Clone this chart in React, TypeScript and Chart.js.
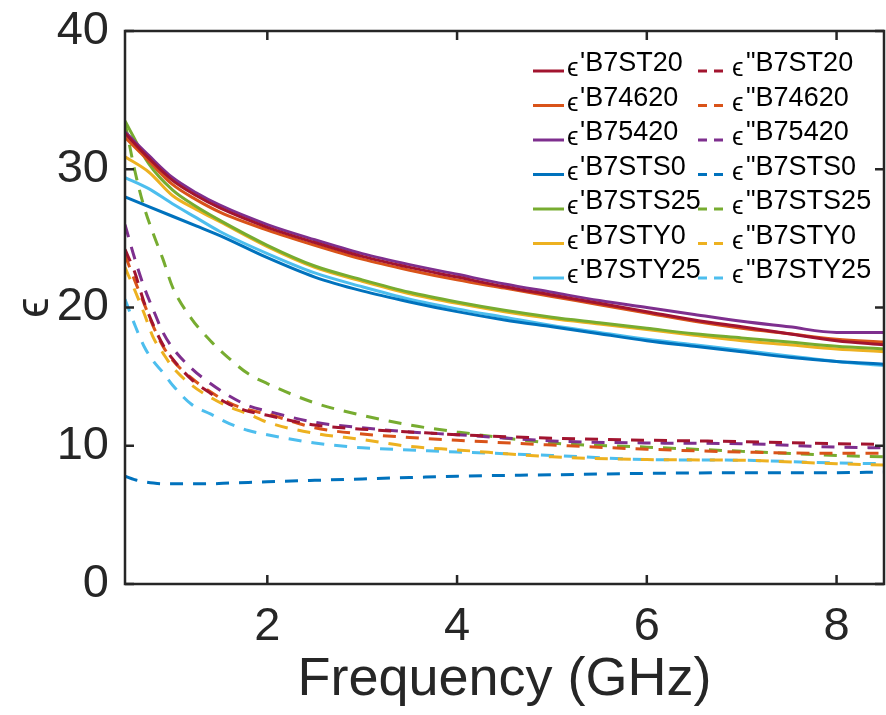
import React, { useEffect, useRef } from "react";
import { Chart, registerables } from "chart.js";

Chart.register(...registerables);

const freqReal = [0.5, 0.75, 1, 1.25, 1.5, 2, 2.5, 3, 3.5, 4, 4.5, 5, 5.5, 6, 6.5, 7, 7.5, 8, 8.5];
const freqImag = [0.5, 0.6, 0.7, 0.8, 0.9, 1.0, 1.2, 1.4, 1.6, 1.8, 2.0, 2.5, 3.0, 3.5, 4, 5, 6, 7, 8, 8.5];

const samples = ["B7ST20", "B74620", "B75420", "B7STS0", "B7STS25", "B7STY0", "B7STY25"];
const colors = ["#A2142F", "#D95319", "#7E2F8E", "#0072BD", "#77AC30", "#EDB120", "#4DBEEE"];

const realB7ST20 = [32.6, 30.8, 29.2, 28.1, 27.2, 25.8, 24.7, 23.7, 22.9, 22.2, 21.5, 20.9, 20.3, 19.7, 19.1, 18.6, 18.1, 17.6, 17.3];
const realB74620 = [32.3, 30.6, 28.9, 27.8, 26.9, 25.6, 24.5, 23.5, 22.7, 22.0, 21.4, 20.8, 20.2, 19.6, 19.0, 18.5, 18.1, 17.7, 17.5];
const realB75420 = [32.7, 31.0, 29.4, 28.3, 27.4, 26.0, 24.9, 23.9, 23.1, 22.4, 21.7, 21.1, 20.5, 20.0, 19.5, 19.0, 18.6, 18.2, 18.2];
const realB7STS0 = [28.0, 27.3, 26.6, 25.9, 25.2, 23.6, 22.2, 21.2, 20.4, 19.7, 19.1, 18.6, 18.1, 17.6, 17.2, 16.8, 16.4, 16.1, 15.9];
const realB7STS25 = [33.5, 30.4, 28.5, 27.3, 26.3, 24.5, 23.0, 22.0, 21.1, 20.4, 19.8, 19.3, 18.9, 18.5, 18.1, 17.8, 17.5, 17.2, 17.0];
const realB7STY0 = [30.9, 29.8, 28.1, 27.1, 26.2, 24.4, 22.9, 21.9, 21.0, 20.3, 19.7, 19.2, 18.8, 18.4, 18.0, 17.6, 17.3, 17.0, 16.8];
const realB7STY25 = [29.4, 28.6, 27.5, 26.5, 25.5, 23.9, 22.5, 21.5, 20.6, 19.9, 19.3, 18.7, 18.2, 17.7, 17.3, 16.9, 16.5, 16.1, 15.8];

const imagB7ST20 = [24.2, 22.6, 20.4, 18.7, 17.3, 16.3, 14.8, 13.8, 13.0, 12.5, 12.2, 11.5, 11.2, 11.0, 10.8, 10.55, 10.4, 10.3, 10.15, 10.1];
const imagB74620 = [23.8, 22.0, 20.3, 18.6, 17.2, 16.2, 14.9, 13.9, 13.1, 12.6, 12.3, 11.3, 10.85, 10.6, 10.4, 10.05, 9.75, 9.55, 9.45, 9.45];
const imagB75420 = [26.0, 23.6, 21.5, 19.8, 18.2, 17.1, 15.6, 14.5, 13.6, 12.9, 12.5, 11.7, 11.3, 11.0, 10.8, 10.35, 10.2, 10.15, 9.9, 9.85];
const imagB7STS0 = [7.8, 7.55, 7.4, 7.3, 7.25, 7.25, 7.25, 7.25, 7.3, 7.35, 7.4, 7.5, 7.6, 7.7, 7.8, 7.9, 8.0, 8.05, 8.05, 8.1];
const imagB7STS25 = [33.4, 30.0, 27.3, 25.3, 23.5, 21.5, 19.2, 17.6, 16.3, 15.2, 14.5, 13.1, 12.2, 11.5, 11.0, 10.2, 9.9, 9.6, 9.3, 9.2];
const imagB7STY0 = [22.9, 21.3, 19.6, 17.8, 16.7, 15.7, 14.4, 13.5, 12.8, 12.3, 11.7, 10.9, 10.45, 9.95, 9.7, 9.2, 9.0, 8.95, 8.7, 8.6];
const imagB7STY25 = [20.6, 18.8, 17.2, 16.1, 15.3, 14.4, 13.0, 12.3, 11.6, 11.1, 10.8, 10.2, 9.85, 9.7, 9.55, 9.3, 9.0, 8.95, 8.75, 8.7];

const realSeries = [realB7ST20, realB74620, realB75420, realB7STS0, realB7STS25, realB7STY0, realB7STY25];
const imagSeries = [imagB7ST20, imagB74620, imagB75420, imagB7STS0, imagB7STS25, imagB7STY0, imagB7STY25];

const xTicks = [2, 4, 6, 8];
const yTicks = [0, 10, 20, 30, 40];

const FONT = "'Liberation Sans', Arial, Helvetica, 'DejaVu Sans', sans-serif";
const AXIS_COLOR = "#262626";

const boxPlugin = {
  id: "matlabBox",
  afterDatasetsDraw(chart: any) {
    const { ctx, chartArea: a, scales } = chart;
    const tl = 9;
    ctx.save();
    ctx.strokeStyle = AXIS_COLOR;
    ctx.lineWidth = 2.5;
    ctx.beginPath();
    ctx.rect(a.left, a.top, a.right - a.left, a.bottom - a.top);
    ctx.stroke();
    ctx.beginPath();
    xTicks.forEach((v) => {
      const px = scales.x.getPixelForValue(v);
      ctx.moveTo(px, a.bottom);
      ctx.lineTo(px, a.bottom - tl);
      ctx.moveTo(px, a.top);
      ctx.lineTo(px, a.top + tl);
    });
    yTicks.forEach((v) => {
      const py = scales.y.getPixelForValue(v);
      ctx.moveTo(a.left, py);
      ctx.lineTo(a.left + tl, py);
      ctx.moveTo(a.right, py);
      ctx.lineTo(a.right - tl, py);
    });
    ctx.stroke();
    ctx.restore();
  },
};

const legendPlugin = {
  id: "twoColLegend",
  afterDraw(chart: any) {
    const { ctx } = chart;
    const ds = chart.data.datasets;
    const rowTop = 60;
    const rowGap = 34.5;
    const cols = [
      { lineX0: 533, lineX1: 564, epsX: 567, textX: 580, prime: "'", dash: [] as number[] },
      { lineX0: 698, lineX1: 725, epsX: 732, textX: 746, prime: '"', dash: [9, 7] },
    ];
    ctx.save();
    samples.forEach((name, i) => {
      const cy = rowTop + i * rowGap;
      cols.forEach((c, ci) => {
        const d = ds[ci * samples.length + i];
        ctx.strokeStyle = d.borderColor;
        ctx.lineWidth = 3;
        ctx.setLineDash(c.dash);
        ctx.beginPath();
        ctx.moveTo(c.lineX0, cy + 11);
        ctx.lineTo(c.lineX1, cy + 11);
        ctx.stroke();
        ctx.setLineDash([]);
        ctx.fillStyle = "#000";
        ctx.textBaseline = "alphabetic";
        ctx.textAlign = "left";
        ctx.font = `26px ${FONT}`;
        ctx.fillText("\u03F5", c.epsX, cy + 16);
        ctx.font = `27px ${FONT}`;
        ctx.fillText(c.prime + name, c.textX, cy + 11);
      });
    });
    ctx.restore();
  },
};

export default function App() {
  const ref = useRef<HTMLCanvasElement | null>(null);

  useEffect(() => {
    if (!ref.current) return;
    const datasets: any[] = [];
    realSeries.forEach((vals, i) => {
      datasets.push({
        label: "\u03F5'" + samples[i],
        data: vals.map((v, k) => ({ x: freqReal[k], y: v })),
        borderColor: colors[i],
        backgroundColor: colors[i],
        borderWidth: 3,
        pointRadius: 0,
        cubicInterpolationMode: "monotone",
        fill: false,
      });
    });
    imagSeries.forEach((vals, i) => {
      datasets.push({
        label: '\u03F5"' + samples[i],
        data: vals.map((v, k) => ({ x: freqImag[k], y: v })),
        borderColor: colors[i],
        backgroundColor: colors[i],
        borderWidth: 3,
        borderDash: [13, 10],
        pointRadius: 0,
        cubicInterpolationMode: "monotone",
        fill: false,
      });
    });

    const chart = new Chart(ref.current, {
      type: "line",
      data: { datasets },
      plugins: [boxPlugin, legendPlugin],
      options: {
        animation: false,
        responsive: false,
        maintainAspectRatio: false,
        layout: { padding: { top: 31, right: 2, left: 0, bottom: 0 } },
        plugins: { legend: { display: false }, tooltip: { enabled: false } },
        scales: {
          x: {
            type: "linear",
            min: 0.5,
            max: 8.5,
            afterBuildTicks: (s: any) => {
              s.ticks = xTicks.map((v) => ({ value: v }));
            },
            afterFit: (s: any) => {
              s.height = 131;
              s.paddingLeft = 0;
              s.paddingRight = 0;
            },
            grid: { display: false, drawTicks: false },
            border: { display: false },
            ticks: {
              color: AXIS_COLOR,
              font: { family: FONT, size: 47 },
              padding: 15,
              maxRotation: 0,
              autoSkip: false,
            },
            title: {
              display: true,
              text: "Frequency (GHz)",
              color: AXIS_COLOR,
              font: { family: FONT, size: 54 },
              padding: { top: 0, bottom: 2 },
            },
          },
          y: {
            type: "linear",
            min: 0,
            max: 40,
            afterBuildTicks: (s: any) => {
              s.ticks = yTicks.map((v) => ({ value: v }));
            },
            afterFit: (s: any) => {
              s.width = 125;
              s.paddingTop = 0;
              s.paddingBottom = 0;
            },
            grid: { display: false, drawTicks: false },
            border: { display: false },
            ticks: {
              color: AXIS_COLOR,
              font: { family: FONT, size: 47 },
              padding: 16,
            },
            title: {
              display: true,
              text: "\u03F5",
              color: AXIS_COLOR,
              font: { family: FONT, size: 46 },
              padding: { top: 8, bottom: 0 },
            },
          },
        },
      },
    } as any);
    return () => chart.destroy();
  }, []);

  return (
    <div style={{ position: "absolute", left: 0, top: 0, width: 886, height: 715, background: "#fff" }}>
      <canvas ref={ref} width={886} height={715} style={{ display: "block" }} />
    </div>
  );
}
